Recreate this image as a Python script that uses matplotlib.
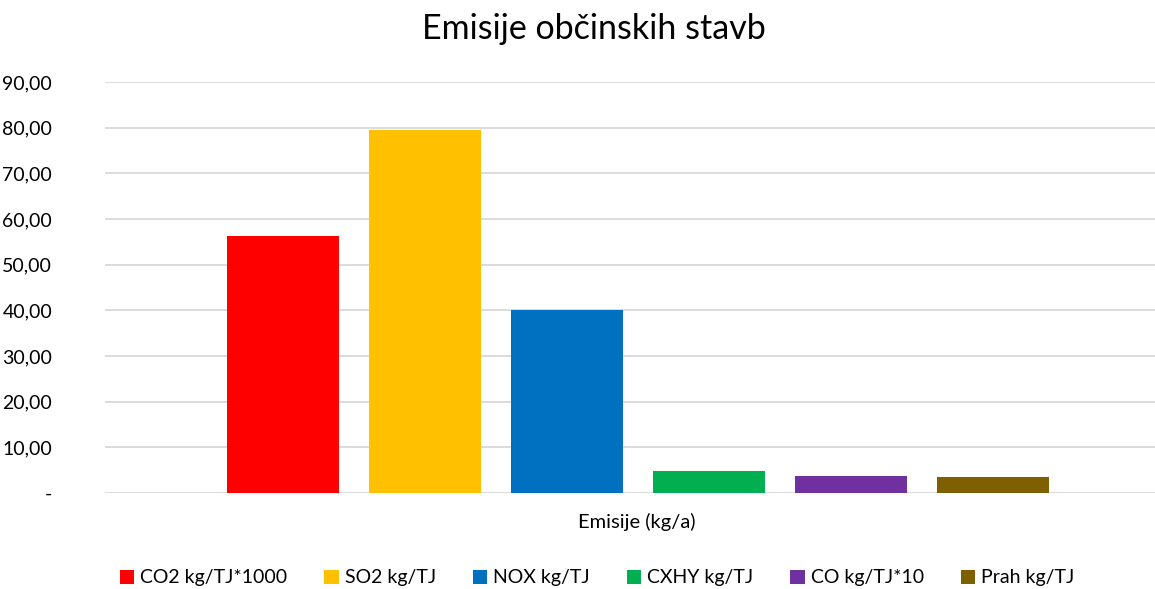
import matplotlib
matplotlib.use("Agg")
import matplotlib.pyplot as plt
from matplotlib.ticker import FixedLocator, FuncFormatter

series = ["CO2 kg/TJ*1000", "SO2 kg/TJ", "NOX kg/TJ", "CXHY kg/TJ", "CO kg/TJ*10", "Prah kg/TJ"]
values = [56.2, 79.4, 40.0, 4.75, 3.66, 3.44]
colors = ["#FF0000", "#FFC000", "#0070C0", "#00B050", "#7030A0", "#7F6000"]
yticks = [0, 10, 20, 30, 40, 50, 60, 70, 80, 90]
title = "Emisije občinskih stavb"
xlabel = "Emisije (kg/a)"

plt.rcParams['font.family'] = ['Lato', 'DejaVu Sans']

W, H = 1155, 589
fig = plt.figure(figsize=(W / 100, H / 100), dpi=100)
left, right, bottom, top = 105, 1170, 493, 82
ax = fig.add_axes([left / W, 1 - bottom / H, (right - left) / W, (bottom - top) / H])

step = 142.0
first_center = 283.0
for i, (s, v, c) in enumerate(zip(series, values, colors)):
    ax.bar(i, v, width=112 / step, color=c, label=s, zorder=3)

ax.set_xlim((left - first_center) / step, (right - first_center) / step)
ax.set_ylim(0, 90)
ax.yaxis.set_major_locator(FixedLocator(yticks))
ax.yaxis.set_major_formatter(FuncFormatter(lambda v, p: "-" if v == 0 else f"{v:.2f}".replace(".", ",")))
ax.set_xticks([])
ax.grid(axis="y", color="#D9D9D9", linewidth=1.3, zorder=0)
for sp in ax.spines.values():
    sp.set_visible(False)
ax.tick_params(axis="y", length=0, pad=38, labelsize=14, labelcolor="#000000")
for lbl in ax.get_yticklabels():
    lbl.set_horizontalalignment("right")

fig.text(594 / W, 1 - 29 / H, title, ha="center", va="center", fontsize=24.5, color="#000000")
fig.text(637 / W, 1 - 522 / H, xlabel, ha="center", va="center", fontsize=14.5, color="#000000")

handles, labels = ax.get_legend_handles_labels()
fig.legend(handles, labels, loc="center", bbox_to_anchor=(597 / W, 1 - 578 / H), ncol=6,
           frameon=False, fontsize=14, handlelength=0.75, handleheight=0.75,
           handletextpad=0.3, columnspacing=1.9)

fig.savefig("out.png", dpi=100)
